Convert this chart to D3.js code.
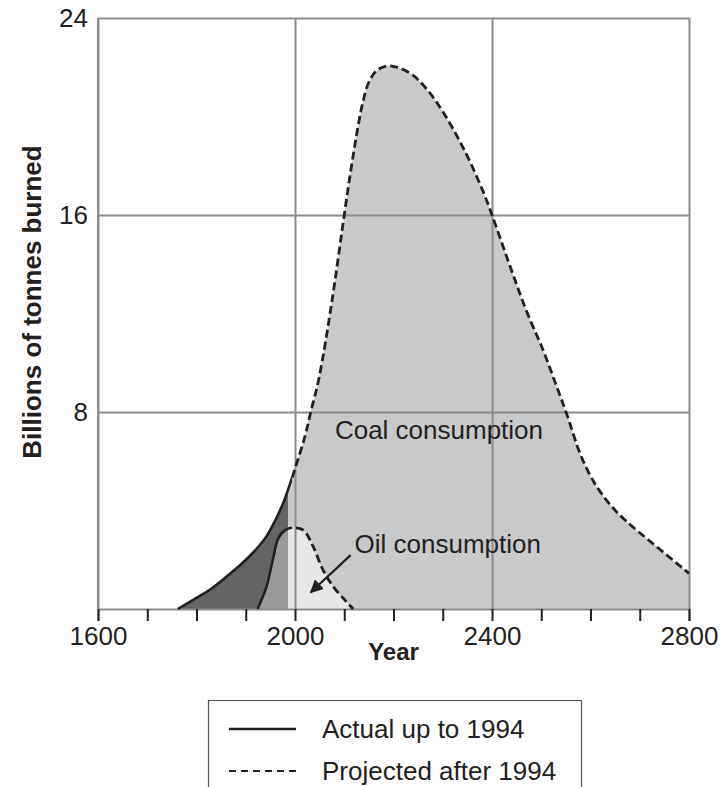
<!DOCTYPE html>
<html>
<head>
<meta charset="utf-8">
<script src="https://cdn.jsdelivr.net/npm/d3@7"></script>
<style>
  body { margin: 0; background: #fff; }
  text { font-family: "Liberation Sans", Arial, sans-serif; fill: #231f20; }
  .grid line, .grid path { stroke: #8c8c8c; stroke-width: 2; }
</style>
</head>
<body>
<div class="chart"></div>
<script>
// datos (año, miles de millones de toneladas)
var coalYears  = [1762, 1800, 1827, 1860, 1895, 1920, 1942, 1960, 1975, 1986, 2000, 2020, 2032, 2049, 2075, 2100, 2114, 2128, 2138, 2150, 2165, 2185, 2207, 2238, 2272, 2300, 2341, 2381, 2400, 2437, 2470, 2504, 2531, 2552, 2579, 2600, 2619, 2645, 2673, 2727, 2800];
var coalValues = [0, 0.45, 0.78, 1.3, 1.9, 2.4, 2.95, 3.6, 4.25, 4.85, 5.7, 7.0, 8.0, 9.4, 12.5, 16.0, 17.9, 19.6, 20.6, 21.4, 21.85, 22.05, 22.0, 21.7, 21.0, 20.2, 18.75, 17.0, 16.0, 13.9, 12.1, 10.5, 9.05, 7.9, 6.3, 5.4, 4.78, 4.12, 3.56, 2.65, 1.45];

var oilYears  = [1924, 1942, 1956, 1966, 1980, 1996, 2017, 2037, 2057, 2078, 2101, 2118];
var oilValues = [0, 0.9, 2.1, 2.87, 3.2, 3.3, 3.2, 2.53, 1.58, 0.9, 0.37, 0];

var xTickLabels = [1600, 2000, 2400, 2800];
var xMinorTicks = d3.range(1600, 2801, 100);
var yTickLabels = [8, 16, 24];

var shadeYear = 1986;   // cambio de tono en el relleno
var splitYear = 1994;   // real / proyectado

var margin = {top: 18, right: 31, bottom: 178, left: 98};
var w = 720 - margin.left - margin.right;
var h = 787 - margin.top - margin.bottom;

var svg = d3.select(".chart")
    .append("svg")
    .attr("width", w + margin.left + margin.right)
    .attr("height", h + margin.top + margin.bottom);

var mainG = svg.append("g")
    .attr("transform", "translate(" + margin.left + "," + margin.top + ")");

var x = d3.scaleLinear().domain([1600, 2800]).range([0, w]);
var y = d3.scaleLinear().domain([0, 24]).range([h, 0]);

var coal = coalYears.map(function(d, i) { return [d, coalValues[i]]; });
var oil = oilYears.map(function(d, i) { return [d, oilValues[i]]; });

var curve = d3.curveCatmullRom.alpha(0.5);

var area = d3.area()
    .x(function(d) { return x(d[0]); })
    .y0(h)
    .y1(function(d) { return y(d[1]); })
    .curve(curve);

var line = d3.line()
    .x(function(d) { return x(d[0]); })
    .y(function(d) { return y(d[1]); })
    .curve(curve);

// clips para separar antes / después
var defs = svg.append("defs");
function clip(id, x0, x1) {
    defs.append("clipPath").attr("id", id)
      .append("rect")
        .attr("x", x0).attr("y", -10)
        .attr("width", x1 - x0).attr("height", h + 20);
}
clip("shadeL", -5, x(shadeYear));
clip("shadeR", x(shadeYear), w + 5);
clip("lineL", -5, x(splitYear));
clip("lineR", x(splitYear), w + 5);

// rellenos
var leftG = mainG.append("g").attr("clip-path", "url(#shadeL)");
leftG.append("path").datum(coal).attr("d", area).attr("fill", "#636466");
leftG.append("path").datum(oil).attr("d", area).attr("fill", "#98999b");

var rightG = mainG.append("g").attr("clip-path", "url(#shadeR)");
rightG.append("path").datum(coal).attr("d", area).attr("fill", "#c8c9cb");
rightG.append("path").datum(oil).attr("d", area).attr("fill", "#e6e7e8");

// rejilla
var xGrid = d3.axisBottom(x).tickValues(xTickLabels).tickSize(-h).tickFormat("");
var yGrid = d3.axisLeft(y).tickValues(yTickLabels).tickSize(-w).tickFormat("");

mainG.append("g")
    .attr("class", "grid")
    .attr("transform", "translate(0," + h + ")")
    .call(xGrid)
    .call(function(g) { g.select(".domain").remove(); });

mainG.append("g")
    .attr("class", "grid")
    .call(yGrid)
    .call(function(g) { g.select(".domain").remove(); });

mainG.append("line")
    .attr("x1", 0).attr("x2", 0).attr("y1", 0).attr("y2", h)
    .attr("stroke", "#8c8c8c").attr("stroke-width", 2);

// eje x: marcas cada 100 años
var xAxis = d3.axisBottom(x).tickValues(xMinorTicks).tickSize(12).tickPadding(6)
    .tickFormat(function(d) { return xTickLabels.indexOf(d) >= 0 ? d : ""; });

var xg = mainG.append("g")
    .attr("transform", "translate(0," + h + ")")
    .call(xAxis);
xg.select(".domain").attr("stroke", "#8c8c8c").attr("stroke-width", 2);
xg.selectAll(".tick line").attr("stroke", "#231f20").attr("stroke-width", 2);
xg.selectAll(".tick text")
    .attr("font-size", 26).attr("fill", "#231f20")
    .style("font-family", "'Liberation Sans', Arial, sans-serif");

// eje y: sólo etiquetas
var yAxis = d3.axisLeft(y).tickValues(yTickLabels).tickSize(0).tickPadding(10);
var yg = mainG.append("g").call(yAxis);
yg.select(".domain").remove();
yg.selectAll(".tick text")
    .attr("font-size", 26).attr("fill", "#231f20")
    .style("font-family", "'Liberation Sans', Arial, sans-serif");

// curvas
var solidG = mainG.append("g").attr("clip-path", "url(#lineL)");
var dashG = mainG.append("g").attr("clip-path", "url(#lineR)");
[coal, oil].forEach(function(s) {
    solidG.append("path").datum(s).attr("d", line)
        .attr("fill", "none").attr("stroke", "#231f20").attr("stroke-width", 2.6);
    dashG.append("path").datum(s).attr("d", line)
        .attr("fill", "none").attr("stroke", "#231f20").attr("stroke-width", 2.8)
        .attr("stroke-dasharray", "8,4");
});

// etiquetas
mainG.append("text")
    .attr("x", x(2081)).attr("y", y(6.9))
    .attr("font-size", 26)
    .text("Coal consumption");

mainG.append("text")
    .attr("x", x(2121)).attr("y", y(2.27))
    .attr("font-size", 26)
    .text("Oil consumption");

// flecha
defs.append("marker")
    .attr("id", "arrow")
    .attr("viewBox", "0 0 10 10")
    .attr("refX", 9).attr("refY", 5)
    .attr("markerWidth", 6).attr("markerHeight", 6)
    .attr("orient", "auto")
  .append("path")
    .attr("d", "M0,0L10,5L0,10z")
    .attr("fill", "#231f20");

mainG.append("line")
    .attr("x1", x(2113)).attr("y1", y(2.19))
    .attr("x2", x(2032)).attr("y2", y(0.68))
    .attr("stroke", "#231f20").attr("stroke-width", 2.2)
    .attr("marker-end", "url(#arrow)");

// títulos de ejes
svg.append("text")
    .attr("x", margin.left + w / 2).attr("y", 660)
    .attr("text-anchor", "middle")
    .attr("font-size", 24).attr("font-weight", "bold")
    .text("Year");

svg.append("text")
    .attr("transform", "translate(41,302) rotate(-90)")
    .attr("text-anchor", "middle")
    .attr("font-size", 26).attr("font-weight", "bold")
    .text("Billions of tonnes burned");

// leyenda
var legend = svg.append("g");
legend.append("path")
    .attr("d", "M208.5,790V700.5H581.5V790")
    .attr("fill", "none").attr("stroke", "#555").attr("stroke-width", 1.2);
legend.append("line")
    .attr("x1", 229).attr("x2", 296).attr("y1", 729).attr("y2", 729)
    .attr("stroke", "#231f20").attr("stroke-width", 2.6);
legend.append("line")
    .attr("x1", 229).attr("x2", 296).attr("y1", 771).attr("y2", 771)
    .attr("stroke", "#231f20").attr("stroke-width", 2)
    .attr("stroke-dasharray", "7,5");
legend.append("text").attr("x", 322).attr("y", 738).attr("font-size", 26).text("Actual up to 1994");
legend.append("text").attr("x", 322).attr("y", 780).attr("font-size", 26).text("Projected after 1994");
</script>
</body>
</html>
